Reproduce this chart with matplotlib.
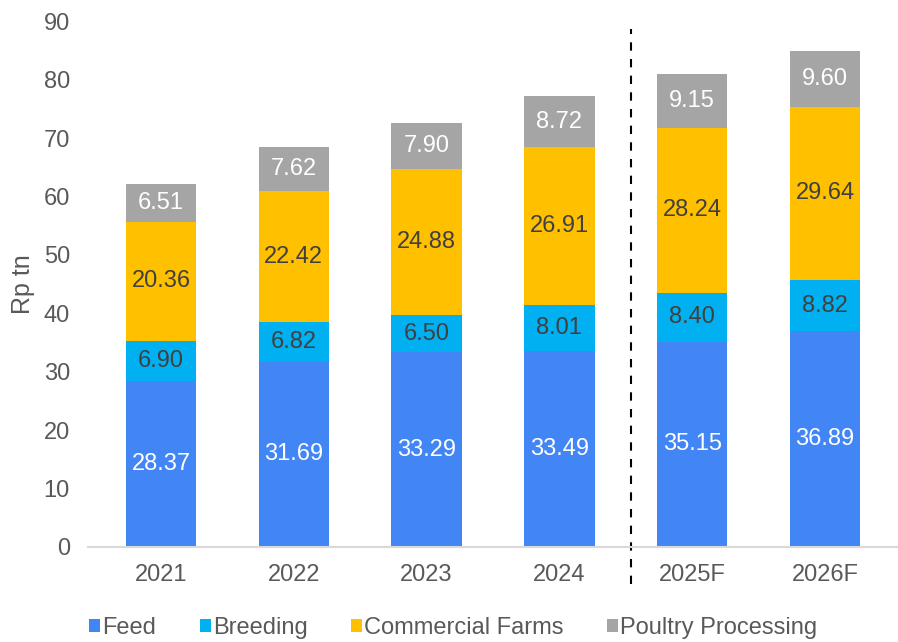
import matplotlib.pyplot as plt
import numpy as np

plt.rcParams['font.family'] = ['Liberation Sans', 'DejaVu Sans']

years = ["2021", "2022", "2023", "2024", "2025F", "2026F"]
feed = [28.37, 31.69, 33.29, 33.49, 35.15, 36.89]
breeding = [6.90, 6.82, 6.50, 8.01, 8.40, 8.82]
commercial = [20.36, 22.42, 24.88, 26.91, 28.24, 29.64]
processing = [6.51, 7.62, 7.90, 8.72, 9.15, 9.60]

series = [
    ("Feed", feed, "#4285F4", "white"),
    ("Breeding", breeding, "#00B0F0", "#404040"),
    ("Commercial Farms", commercial, "#FFC000", "#404040"),
    ("Poultry Processing", processing, "#A5A5A5", "white"),
]

fig = plt.figure(figsize=(8.98, 6.42), dpi=100)
ax = fig.add_axes([0.098, 0.148, 0.902, 0.819])

x = np.arange(len(years))
bottom = np.zeros(len(years))
for name, vals, color, tcol in series:
    vals = np.array(vals)
    ax.bar(x, vals, 0.53, bottom=bottom, color=color, label=name)
    for xi, b, v in zip(x, bottom, vals):
        ax.text(xi, b + v / 2, "%.2f" % v, ha="center", va="center",
                color=tcol, fontsize=17)
    bottom += vals

ax.set_xlim(-0.55, 5.55)
ax.set_ylim(0, 90)
ax.set_yticks(range(0, 91, 10))
ax.set_xticks(x)
ax.set_xticklabels(years)
ax.tick_params(length=0, labelsize=17, labelcolor="#595959")
ax.tick_params(axis="x", pad=12)
ax.tick_params(axis="y", pad=13)
for s in ["top", "right", "left"]:
    ax.spines[s].set_visible(False)
ax.spines["bottom"].set_color("#D9D9D9")
ax.spines["bottom"].set_linewidth(1.5)

ax.set_ylabel("Rp tn", fontsize=18, color="#595959", labelpad=6)

# forecast divider
ax.plot([3.54, 3.54], [-0.07, 0.985], transform=ax.get_xaxis_transform(),
        color="black", linestyle=(0, (4, 4)), linewidth=1.5, clip_on=False)

fig.legend(loc="center", bbox_to_anchor=(0.505, 0.022), ncol=4,
           frameon=False, fontsize=17, handlelength=0.45, handleheight=0.45,
           handletextpad=0.1, columnspacing=1.85, labelcolor="#595959",
           borderaxespad=0, borderpad=0)

fig.savefig("out.png", dpi=100)
